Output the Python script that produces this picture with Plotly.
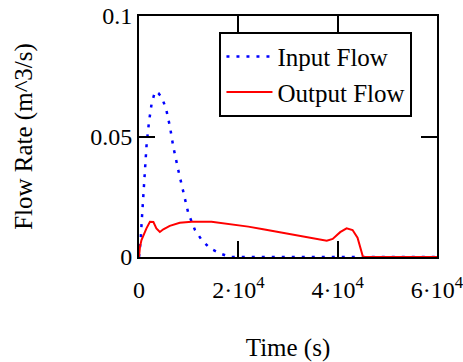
import plotly.graph_objects as go

t_in = [0, 300, 540, 870, 1200, 1540, 2010, 2550, 3220, 3900, 4560, 5430, 6240, 6900,
        7900, 8920, 9930, 11270, 12610, 14290, 16300, 18300, 60000]
q_in = [0, 0.006, 0.0146, 0.025, 0.0375, 0.047, 0.056, 0.0638, 0.0686, 0.068, 0.0663,
        0.0617, 0.054, 0.0458, 0.0361, 0.0264, 0.0181, 0.0112, 0.0071, 0.0036, 0.0015,
        0, 0]

t_out = [0, 200, 500, 900, 1500, 2200, 2900, 3500, 4200, 4900, 6200, 8200, 10600, 14600,
         18300, 22000, 25000, 28500, 31700, 35000, 37800, 39000, 40500, 41800, 43000,
         44000, 44600, 45100, 60000]
q_out = [0, 0.0043, 0.007, 0.009, 0.0119, 0.0146, 0.0145, 0.0119, 0.0104, 0.0115, 0.0129,
         0.0142, 0.0146, 0.0146, 0.0137, 0.0126, 0.0115, 0.0103, 0.0091, 0.0079, 0.0068,
         0.0075, 0.0103, 0.0119, 0.0112, 0.008, 0.004, 0, 0]

x_ticks = [0, 20000, 40000, 60000]
x_ticktext = ["0", "2·10<sup>4</sup>", "4·10<sup>4</sup>", "6·10<sup>4</sup>"]
y_ticks = [0, 0.05, 0.1]
y_ticktext = ["0", "0.05", "0.1"]

FONT = "Times New Roman, Liberation Serif, DejaVu Serif, serif"

fig = go.Figure()
fig.add_trace(go.Scatter(x=t_in, y=q_in, mode="lines", name="Input Flow",
                         line=dict(color="#0000ff", width=2.5, dash="3px,7px")))
fig.add_trace(go.Scatter(x=t_out, y=q_out, mode="lines", name="Output Flow",
                         line=dict(color="#ff0000", width=2)))

fig.update_layout(
    width=463, height=362,
    margin=dict(l=139, r=26, t=16, b=105, autoexpand=False),
    paper_bgcolor="white", plot_bgcolor="white",
    font=dict(family=FONT, size=24, color="black"),
    showlegend=True,
    legend=dict(x=0.27, y=0.935, xanchor="left", yanchor="top",
                bordercolor="black", borderwidth=2, bgcolor="white",
                font=dict(family=FONT, size=25), itemwidth=46,
                tracegroupgap=0),
    xaxis=dict(range=[0, 60000], tickvals=x_ticks, ticktext=x_ticktext,
               ticks="inside", ticklen=16, tickwidth=1.5, tickcolor="black",
               showline=True, linecolor="black", linewidth=2, mirror="ticks",
               showgrid=False, zeroline=False, ticklabelstandoff=10,
               automargin=False, ticklabeloverflow="allow",
               title=dict(text="Time (s)", standoff=37,
                          font=dict(family=FONT, size=25))),
    yaxis=dict(range=[0, 0.1], tickvals=y_ticks, ticktext=y_ticktext,
               ticks="inside", ticklen=16, tickwidth=1.5, tickcolor="black",
               showline=True, linecolor="black", linewidth=2, mirror="ticks",
               showgrid=False, zeroline=False, ticklabelstandoff=0,
               automargin=False, ticklabeloverflow="allow",
               title=dict(text="Flow Rate (m^3/s)", standoff=50,
                          font=dict(family=FONT, size=25))),
)

fig.write_html("out.html")
